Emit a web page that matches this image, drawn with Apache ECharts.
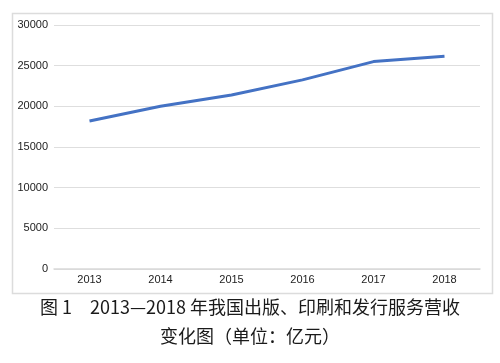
<!DOCTYPE html>
<html>
<head>
<meta charset="utf-8">
<script src="https://cdn.jsdelivr.net/npm/echarts@6/dist/echarts.min.js"></script>
<style>
  html, body { margin: 0; padding: 0; background: #fff; }
  #chart { width: 500px; height: 363px; }
</style>
</head>
<body>
<div id="chart"></div>
<script>
// Annual revenue of publishing, printing and distribution services (100 million yuan)
const years = ['2013', '2014', '2015', '2016', '2017', '2018'];
const revenue = [18200, 20000, 21400, 23250, 25500, 26150];
const yTicks = [0, 5000, 10000, 15000, 20000, 25000, 30000];

const captionLine1 = '图 1　2013—2018 年我国出版、印刷和发行服务营收';
const captionLine2 = '变化图（单位：亿元）';

const labelFont = '"Liberation Sans", Arial, sans-serif';

const chart = echarts.init(document.getElementById('chart'), null, { renderer: 'canvas' });

chart.setOption({
  animation: false,
  backgroundColor: '#ffffff',
  grid: { left: 54, right: 20, top: 25, bottom: 94 },
  xAxis: {
    type: 'category',
    data: years,
    boundaryGap: true,
    axisLine: { show: true, lineStyle: { color: '#d9d9d9', width: 1.5 } },
    axisTick: { show: false },
    axisLabel: {
      color: '#222',
      fontSize: 11,
      fontFamily: labelFont,
      margin: 5
    }
  },
  yAxis: {
    type: 'value',
    min: yTicks[0],
    max: yTicks[yTicks.length - 1],
    interval: yTicks[1] - yTicks[0],
    axisLine: { show: false },
    axisTick: { show: false },
    splitLine: { lineStyle: { color: '#dedede', width: 1.2 } },
    axisLabel: {
      color: '#222',
      fontSize: 11,
      fontFamily: labelFont,
      margin: 6,
      formatter: function (v) { return String(v); }
    }
  },
  series: [{
    type: 'line',
    data: revenue,
    symbol: 'none',
    lineStyle: { color: '#4472c4', width: 3 },
    itemStyle: { color: '#4472c4' }
  }],
  graphic: [
    {
      type: 'rect',
      shape: { x: 12.5, y: 13.5, width: 480, height: 280 },
      style: { fill: 'none', stroke: '#dcdcdc', lineWidth: 1.5 },
      silent: true
    },
    {
      type: 'text',
      left: 'center',
      top: 298,
      style: {
        text: captionLine1,
        fill: '#1a1a1a',
        font: '18px "Noto Sans CJK SC", sans-serif'
      }
    },
    {
      type: 'text',
      left: 'center',
      top: 327,
      style: {
        text: captionLine2,
        fill: '#1a1a1a',
        font: '18px "Noto Sans CJK SC", sans-serif'
      }
    }
  ]
});
</script>
</body>
</html>
